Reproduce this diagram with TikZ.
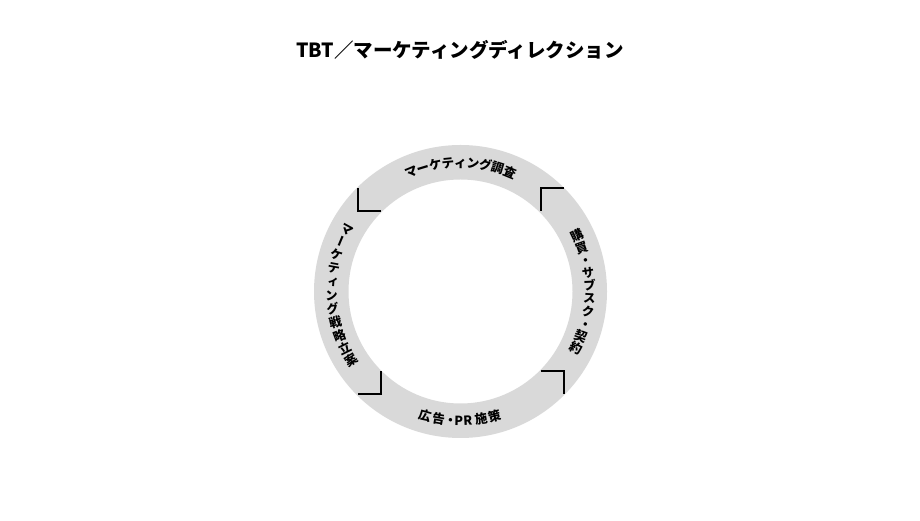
\documentclass[tikz,border=0pt]{standalone}
\usepackage{fontspec}
\newfontfamily\jpfont{Noto Sans CJK JP}
\newfontfamily\jpvert{Noto Sans CJK JP}[RawFeature=+vert]

\begin{document}
\begin{tikzpicture}[
    x=1pt, y=1pt,
    ring/.style={fill=black!15, even odd rule},
    bracket/.style={draw=black, line width=2pt},
    ringchar/.style={font=\jpfont\bfseries\fontsize{12.6}{12.6}\selectfont, inner sep=0pt, text height=11pt, text depth=1.6pt},
    vchar/.style={ringchar, font=\jpvert\bfseries\fontsize{12.6}{12.6}\selectfont},
    titletext/.style={font=\jpfont\bfseries\fontsize{19.5}{19.5}\selectfont}
]
\useasboundingbox (0,0) rectangle (920,521);

% Title
\node[titletext] (title) at (460,471) {TBT／マーケティングディレクション};

% Ring
\coordinate (c) at (460.5,229.5);
\path[ring] (c) circle[radius=146.5] (c) circle[radius=112];

\begin{scope}[shift={(c)}]
    % Corner brackets
    \draw[bracket] (-103,103) |- (-80,80);
    \draw[bracket] (103,103) -| (80,80);
    \draw[bracket] (80,-80) -| (103,-103);
    \draw[bracket] (-80,-80) |- (-103,-103);

    % Top label
    \foreach \ch [count=\i, evaluate=\i as \ang using 112.4-(\i-1)*5.6] in {マ,ー,ケ,テ,ィ,ン,グ,調,査}
        \node[ringchar, rotate=\ang-90] (research\i) at (\ang:129) {\ch};

    % Right label
    \foreach \ch [count=\i, evaluate=\i as \ang using 25.6-(\i-1)*5.75] in {購,買,・,サ,ブ,ス,ク,・,契,約}
        \node[vchar, rotate=\ang] (purchase\i) at (\ang:129) {\ch};

    % Bottom label
    \foreach \ch/\d [count=\i] in {広/-16.0, 告/-9.8, ・/-4.4, P/-0.8, R/3.2, 施/9.2, 策/15.3}
        \node[ringchar, rotate=\d] (promotion\i) at (270+\d:129) {\ch};

    % Left label
    \foreach \ch [count=\i, evaluate=\i as \ang using 151.3+(\i-1)*6.1] in {マ,ー,ケ,テ,ィ,ン,グ,戦,略,立,案}
        \node[vchar, rotate=\ang-180] (strategy\i) at (\ang:129) {\ch};
\end{scope}

\end{tikzpicture}
\end{document}
